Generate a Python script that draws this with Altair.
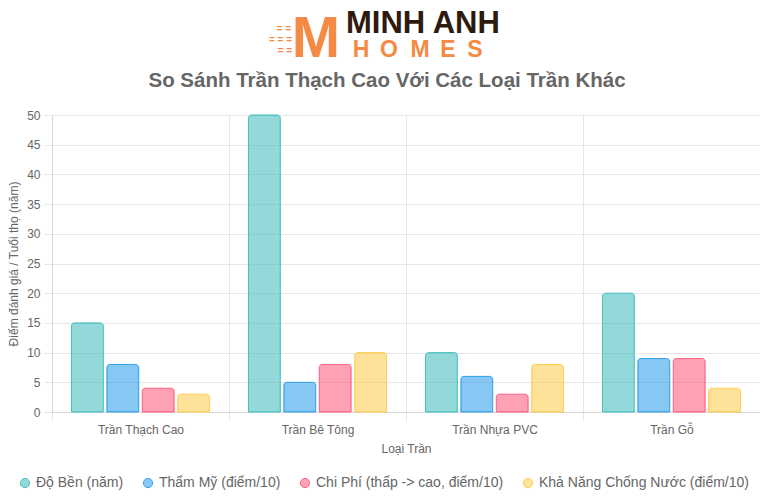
import altair as alt
import pandas as pd

categories = ["Trần Thạch Cao", "Trần Bê Tông", "Trần Nhựa PVC", "Trần Gỗ"]
series = [
    "Độ Bền (năm)",
    "Thẩm Mỹ (điểm/10)",
    "Chi Phí (thấp -> cao, điểm/10)",
    "Khả Năng Chống Nước (điểm/10)",
]
do_ben = [15, 50, 10, 20]
tham_my = [8, 5, 6, 9]
chi_phi = [4, 8, 3, 9]
chong_nuoc = [3, 10, 8, 4]
y_ticks = list(range(0, 51, 5))

fill_colors = ["rgba(75,192,192,0.6)", "rgba(54,162,235,0.6)",
               "rgba(255,99,132,0.6)", "rgba(255,206,86,0.6)"]
stroke_colors = ["rgb(75,192,192)", "rgb(54,162,235)",
                 "rgb(255,99,132)", "rgb(255,206,86)"]

title_text = "So Sánh Trần Thạch Cao Với Các Loại Trần Khác"
y_title = "Điểm đánh giá / Tuổi thọ (năm)"
x_title = "Loại Trần"
logo_word = "MINH ANH"
logo_sub = ["H", "O", "M", "E", "S"]

rows = []
for s, vals in zip(series, [do_ben, tham_my, chi_phi, chong_nuoc]):
    for c, v in zip(categories, vals):
        rows.append({"cat": c, "ser": s, "val": v})
df = pd.DataFrame(rows)

FONT = "Liberation Sans"
ORANGE = "#F58A45"
DARK = "#2E1A0E"

legend = alt.Legend(
    title=None, orient="none", direction="horizontal",
    legendX=-34, legendY=361,
    symbolType="circle", symbolSize=85, symbolStrokeWidth=1,
    labelFontSize=14, labelColor="#666", labelFont=FONT,
    labelOffset=4, columnPadding=17, labelLimit=400,
)

bars = alt.Chart(df).mark_bar(
    strokeWidth=1, cornerRadiusTopLeft=3, cornerRadiusTopRight=3
).encode(
    x=alt.X("cat:N", sort=categories, title=x_title,
            scale=alt.Scale(paddingInner=0, paddingOuter=0),
            axis=alt.Axis(labelAngle=0, tickBand="extent", grid=True,
                          tickSize=8, labelPadding=4, titlePadding=8)),
    xOffset=alt.XOffset("ser:N", sort=series,
                        scale=alt.Scale(paddingInner=0.1, paddingOuter=0.55)),
    y=alt.Y("val:Q", title=y_title,
            scale=alt.Scale(domain=[0, 50], nice=False),
            axis=alt.Axis(values=y_ticks, tickSize=8, labelPadding=4,
                          titlePadding=6)),
    fill=alt.Fill("ser:N", sort=series,
                  scale=alt.Scale(domain=series, range=fill_colors),
                  legend=legend),
    stroke=alt.Stroke("ser:N", sort=series,
                      scale=alt.Scale(domain=series, range=stroke_colors),
                      legend=legend),
)


def label(txt, x, y, size, color, weight="bold", align="left",
          baseline="alphabetic", font=FONT):
    return alt.Chart(pd.DataFrame({"t": [txt]})).mark_text(
        font=font, fontSize=size, fontWeight=weight, color=color,
        align=align, baseline=baseline,
    ).encode(text="t:N", x=alt.value(x), y=alt.value(y))


layers = [bars]
# logo: speed lines + orange M
layers.append(label("= =", 239, -83, 10, ORANGE, align="right"))
layers.append(label("= = =", 240, -72, 10, ORANGE, align="right"))
layers.append(label("= =", 240, -61, 10, ORANGE, align="right"))
layers.append(label("M", 264, -58, 58, ORANGE, align="center"))
layers.append(label(logo_word, 294, -82, 31, DARK))
for ch, cx in zip(logo_sub, [309, 337, 368, 396, 423]):
    layers.append(label(ch, cx, -58, 23, ORANGE, align="center"))
layers.append(label(title_text, 335, -34, 20.5, "#666", align="center",
                    baseline="middle"))

chart = alt.layer(*layers).properties(
    width=708, height=297,
    padding={"left": 44, "top": 107, "right": 0, "bottom": 84},
    autosize=alt.AutoSizeParams(type="none"),
).configure(
    font=FONT,
).configure_view(
    stroke=None,
).configure_axis(
    labelFont=FONT, titleFont=FONT, labelFontSize=12, titleFontSize=12,
    labelColor="#666", titleColor="#666", titleFontWeight="normal",
    gridColor="#e6e6e6", tickColor="#e6e6e6", domainColor="#d6d6d6",
)

chart.save("out.html", embed_options={"renderer": "svg", "actions": False})
